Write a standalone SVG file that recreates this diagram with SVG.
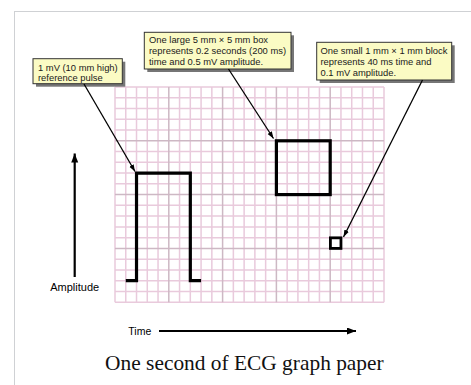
<svg xmlns="http://www.w3.org/2000/svg" width="471" height="385" viewBox="0 0 471 385">
<defs>
<style>
.frame{fill:#ffffff;stroke:#cfd1d4;stroke-width:1}
.minor{fill:none;stroke:#e9cadc;stroke-width:1.5}
.major{fill:none;stroke:#cdb8c4;stroke-width:1.5}
.trace{fill:none;stroke:#000;stroke-width:3.2;stroke-linejoin:miter}
.shadow{fill:#767676}
.box{fill:#fbfbc4;stroke:#333;stroke-width:1}
.lbl{font-family:"Liberation Sans",Arial,sans-serif;font-size:9.4px;fill:#1a1a1a}
.ptr{fill:none;stroke:#000;stroke-width:1.3}
.axis{fill:none;stroke:#000;stroke-width:2.2}
.axlbl{font-family:"Liberation Sans",Arial,sans-serif;fill:#000}
.cap{font-family:"Liberation Serif","Times New Roman",serif;font-size:21.4px;fill:#111}
</style>
<marker id="ptrHead" markerUnits="userSpaceOnUse" markerWidth="8" markerHeight="6" refX="7" refY="2.5" orient="auto">
<path d="M0,0 L7,2.5 L0,5 z" fill="#000"/>
</marker>
<marker id="axHead" markerUnits="userSpaceOnUse" markerWidth="11" markerHeight="8" refX="9" refY="3.5" orient="auto">
<path d="M0,0 L9,3.5 L0,7 z" fill="#000"/>
</marker>
</defs>
<rect class="frame" x="14.5" y="11.5" width="480" height="400"/>
<g id="grid">
<path class="minor" d="M115,87V302.2M125.76,87V302.2M136.52,87V302.2M147.28,87V302.2M158.04,87V302.2M179.56,87V302.2M190.32,87V302.2M201.08,87V302.2M211.84,87V302.2M233.36,87V302.2M244.12,87V302.2M254.88,87V302.2M265.64,87V302.2M287.16,87V302.2M297.92,87V302.2M308.68,87V302.2M319.44,87V302.2M340.96,87V302.2M351.72,87V302.2M362.48,87V302.2M373.24,87V302.2M384,87V302.2M115,87H384M115,97.76H384M115,108.52H384M115,119.28H384M115,130.04H384M115,151.56H384M115,162.32H384M115,173.08H384M115,183.84H384M115,205.36H384M115,216.12H384M115,226.88H384M115,237.64H384M115,259.16H384M115,269.92H384M115,280.68H384M115,291.44H384M115,302.2H384"/>
<path class="major" d="M168.8,87V302.2M222.6,87V302.2M276.4,87V302.2M330.2,87V302.2M115,140.8H384M115,194.6H384M115,248.4H384"/>
</g>
<g id="reference-pulse">
<path class="trace" d="M125.76,280.68H136.52V173.08H190.32V280.68H201.08"/>
</g>
<g id="large-box">
<rect class="trace" x="276.4" y="140.8" width="53.8" height="53.8"/>
</g>
<g id="small-box">
<rect class="trace" x="330.4" y="237.84" width="10.56" height="10.56" style="stroke-width:2.8"/>
</g>
<g id="callout-pulse">
<rect class="shadow" x="36" y="61.7" width="89.3" height="25"/>
<rect class="box" x="33" y="58.7" width="89.3" height="25"/>
<text class="lbl" x="38" y="70.5">1 mV (10 mm high)</text>
<text class="lbl" x="38" y="80.8">reference pulse</text>
</g>
<g id="callout-large">
<rect class="shadow" x="147.3" y="35.3" width="146.7" height="36.7"/>
<rect class="box" x="144.3" y="32.3" width="146.7" height="36.7"/>
<text class="lbl" x="149" y="43.3">One large 5 mm × 5 mm box</text>
<text class="lbl" x="149" y="54.3">represents 0.2 seconds (200 ms)</text>
<text class="lbl" x="149" y="65.3">time and 0.5 mV amplitude.</text>
</g>
<g id="callout-small">
<rect class="shadow" x="319.7" y="45.3" width="135" height="37.7"/>
<rect class="box" x="316.7" y="42.3" width="135" height="37.7"/>
<text class="lbl" x="320.5" y="53.5">One small 1 mm × 1 mm block</text>
<text class="lbl" x="320.5" y="64.5">represents 40 ms time and</text>
<text class="lbl" x="320.5" y="75.5">0.1 mV amplitude.</text>
</g>
<g id="connectors">
<line class="ptr" x1="84" y1="84" x2="135" y2="171.5" marker-end="url(#ptrHead)"/>
<line class="ptr" x1="228.5" y1="69" x2="273.5" y2="138.5" marker-end="url(#ptrHead)"/>
<line class="ptr" x1="422.5" y1="80" x2="343.5" y2="237" marker-end="url(#ptrHead)"/>
</g>
<g id="amplitude-axis">
<line class="axis" x1="74.7" y1="277" x2="74.7" y2="153.5" marker-end="url(#axHead)"/>
<text class="axlbl" x="74.7" y="291" text-anchor="middle" font-size="11">Amplitude</text>
</g>
<g id="time-axis">
<line class="axis" x1="159" y1="331" x2="356" y2="331" marker-end="url(#axHead)"/>
<text class="axlbl" x="128.3" y="334.5" font-size="10.5">Time</text>
</g>
<text class="cap" x="244.4" y="370" text-anchor="middle">One second of ECG graph paper</text>
</svg>
